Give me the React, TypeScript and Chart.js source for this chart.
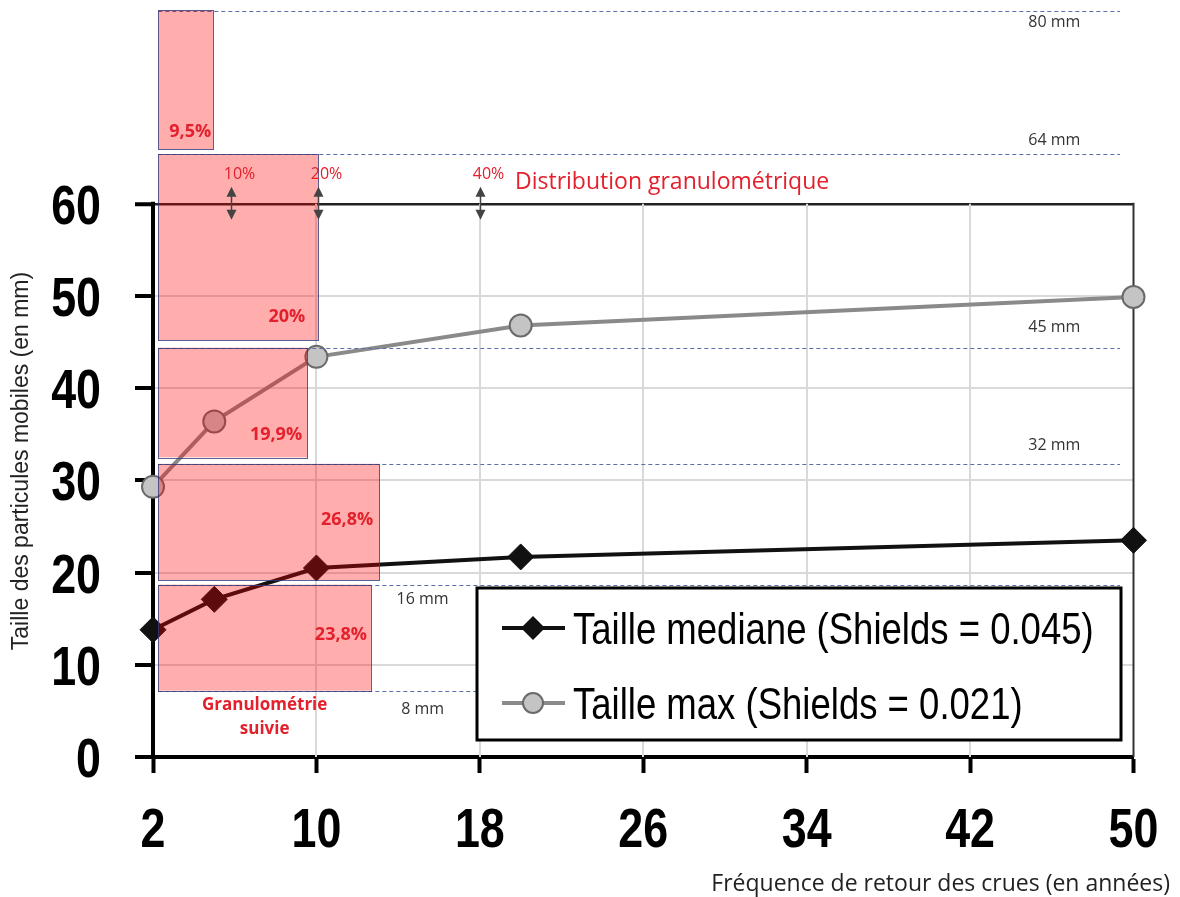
import React, { useEffect, useRef } from 'react';
import { Chart, registerables } from 'chart.js';

Chart.register(...registerables);

// Return period of floods (years) and mobile particle sizes (mm)
const returnPeriods = [2, 5, 10, 20, 50];
const medianSize = [13.8, 17.1, 20.5, 21.7, 23.5];
const maxSize = [29.3, 36.4, 43.4, 46.8, 49.9];
const xTicks = [2, 10, 18, 26, 34, 42, 50];
const yTicks = [0, 10, 20, 30, 40, 50, 60];

// Grain-size classes of the monitored bed material (position on the size axis)
const classLeft = 2.26;
const classTop = [81.0, 65.4, 44.4, 31.8, 18.7];
const classBottom = [65.9, 45.2, 32.5, 19.2, 7.2];
const classRight = [4.94, 10.1, 9.57, 13.09, 12.67];
const classShare = ['9,5%', '20%', '19,9%', '26,8%', '23,8%'];
const classShareX = [4.85, 9.45, 9.3, 12.78, 12.48];
const classShareY = [67.8, 47.7, 34.9, 25.7, 13.2];

// Class limits
const limitY = [80.9, 65.4, 44.4, 31.8, 18.7, 7.2];
const limitLabels = ['80 mm', '64 mm', '45 mm', '32 mm', '16 mm', '8 mm'];

// Cumulative distribution markers
const arrowX = [5.8, 10.1, 18];
const arrowLabels = ['10%', '20%', '40%'];

const seriesNames = ['Taille mediane (Shields = 0.045)', 'Taille max (Shields = 0.021)'];

const RED = '#e3202c';
const SANS = '"Liberation Sans", Arial, sans-serif';
const SOFT = '"Open Sans", "Noto Sans", sans-serif';

// placement of the limit labels: x position (axis units), pixel offset from line, alignment
const limitLabelPos = [
  { x: 47.4, dy: 11, align: 'right' },
  { x: 47.4, dy: -14, align: 'right' },
  { x: 47.4, dy: -20, align: 'right' },
  { x: 47.4, dy: -18, align: 'right' },
  { x: 15.2, dy: 15, align: 'center' },
  { x: 15.2, dy: 19, align: 'center' },
];

// text drawn with a horizontal squeeze (narrow face)
function narrowText(ctx: CanvasRenderingContext2D, text: string, x: number, y: number, sx: number, align: CanvasTextAlign) {
  ctx.save();
  ctx.translate(x, y);
  ctx.scale(sx, 1);
  ctx.textAlign = align;
  ctx.fillText(text, 0, 0);
  ctx.restore();
}

const overlayPlugin = {
  id: 'grainOverlay',
  beforeDatasetsDraw(chart: any) {
    const { ctx, scales } = chart;
    const xs = scales.x;
    const ys = scales.y;
    const top = ys.getPixelForValue(60);
    const bottom = ys.getPixelForValue(0);
    ctx.save();
    ctx.strokeStyle = '#d9d9d9';
    ctx.lineWidth = 2;
    xTicks.slice(1, -1).forEach((v) => {
      const px = Math.round(xs.getPixelForValue(v));
      ctx.beginPath();
      ctx.moveTo(px, top);
      ctx.lineTo(px, bottom);
      ctx.stroke();
    });
    // right frame
    ctx.strokeStyle = '#333';
    ctx.lineWidth = 2;
    const rx = xs.getPixelForValue(50);
    ctx.beginPath();
    ctx.moveTo(rx, top - 1);
    ctx.lineTo(rx, bottom);
    ctx.stroke();
    // value axis line, limited to the 0-60 range
    ctx.strokeStyle = '#000';
    ctx.lineWidth = 4;
    const lx = Math.round(xs.getPixelForValue(2));
    ctx.beginPath();
    ctx.moveTo(lx, top - 2);
    ctx.lineTo(lx, bottom + 2);
    ctx.stroke();

    // axis tick labels (bold narrow)
    ctx.fillStyle = '#000';
    ctx.font = `bold 56px ${SANS}`;
    ctx.textBaseline = 'alphabetic';
    ys.ticks.forEach((t: any) => {
      narrowText(ctx, t.label ?? String(t.value), 101, ys.getPixelForValue(t.value) + 20, 0.8, 'right');
    });
    xs.ticks.forEach((t: any) => {
      narrowText(ctx, t.label ?? String(t.value), xs.getPixelForValue(t.value), 847, 0.8, 'center');
    });
    ctx.restore();
  },
  afterDatasetsDraw(chart: any) {
    const { ctx, scales } = chart;
    const xs = scales.x;
    const ys = scales.y;
    const X = (v: number) => xs.getPixelForValue(v);
    const Y = (v: number) => ys.getPixelForValue(v);
    ctx.save();

    // dashed class limits
    ctx.strokeStyle = '#5b6fa6';
    ctx.lineWidth = 1;
    ctx.setLineDash([4, 3]);
    limitY.forEach((v) => {
      const py = Math.round(Y(v)) + 0.5;
      ctx.beginPath();
      ctx.moveTo(X(classLeft), py);
      ctx.lineTo(1120, py);
      ctx.stroke();
    });
    ctx.setLineDash([]);

    // class boxes
    classTop.forEach((t, i) => {
      const x0 = X(classLeft);
      const x1 = X(classRight[i]);
      const y0 = Y(t);
      const y1 = Y(classBottom[i]);
      ctx.fillStyle = 'rgba(255,0,0,0.32)';
      ctx.fillRect(x0, y0, x1 - x0, y1 - y0);
      ctx.strokeStyle = 'rgba(50,60,120,0.8)';
      ctx.lineWidth = 1;
      ctx.strokeRect(Math.round(x0) + 0.5, Math.round(y0) + 0.5, Math.round(x1 - x0), Math.round(y1 - y0));
    });

    // class shares
    ctx.fillStyle = RED;
    ctx.font = `bold 18px ${SOFT}`;
    ctx.textAlign = 'right';
    ctx.textBaseline = 'middle';
    classShare.forEach((s, i) => {
      ctx.fillText(s, X(classShareX[i]), Y(classShareY[i]));
    });

    // distribution arrows
    const yMid = Y(60);
    arrowX.forEach((v, i) => {
      const px = Math.round(X(v)) + 0.5;
      ctx.strokeStyle = '#444';
      ctx.fillStyle = '#444';
      ctx.lineWidth = 1.5;
      ctx.beginPath();
      ctx.moveTo(px, yMid - 10);
      ctx.lineTo(px, yMid + 10);
      ctx.stroke();
      ctx.beginPath();
      ctx.moveTo(px, yMid - 17);
      ctx.lineTo(px - 5, yMid - 7);
      ctx.lineTo(px + 5, yMid - 7);
      ctx.closePath();
      ctx.fill();
      ctx.beginPath();
      ctx.moveTo(px, yMid + 16);
      ctx.lineTo(px - 5, yMid + 6);
      ctx.lineTo(px + 5, yMid + 6);
      ctx.closePath();
      ctx.fill();
      ctx.fillStyle = RED;
      ctx.font = `16px ${SOFT}`;
      ctx.textAlign = 'center';
      ctx.textBaseline = 'middle';
      ctx.fillText(arrowLabels[i], px + 8, yMid - 29);
    });

    ctx.fillStyle = RED;
    ctx.font = `23px ${SOFT}`;
    ctx.textAlign = 'left';
    ctx.textBaseline = 'middle';
    ctx.fillText('Distribution granulométrique', 515, yMid - 21);

    // monitored grain size caption
    const cx = (X(classLeft) + X(classRight[4])) / 2;
    ctx.font = `bold 17px ${SOFT}`;
    ctx.textAlign = 'center';
    ctx.fillText('Granulométrie', cx, Y(classBottom[4]) + 15);
    ctx.fillText('suivie', cx, Y(classBottom[4]) + 39);

    // limit labels
    ctx.fillStyle = '#333';
    ctx.font = `16px ${SOFT}`;
    limitLabels.forEach((l, i) => {
      const p = limitLabelPos[i];
      ctx.textAlign = p.align as CanvasTextAlign;
      ctx.fillText(l, X(p.x), Y(limitY[i]) + p.dy);
    });

    // legend
    const lx = 477, ly = 588, lw = 644, lh = 152;
    ctx.fillStyle = '#fff';
    ctx.fillRect(lx, ly, lw, lh);
    ctx.strokeStyle = '#000';
    ctx.lineWidth = 3;
    ctx.strokeRect(lx, ly, lw, lh);
    const rows = [628, 703];
    const ds = chart.data.datasets;
    rows.forEach((ry, i) => {
      const d = ds[i];
      ctx.strokeStyle = d.borderColor;
      ctx.lineWidth = 4;
      ctx.beginPath();
      ctx.moveTo(502, ry);
      ctx.lineTo(565, ry);
      ctx.stroke();
      const mx = 533;
      if (i === 0) {
        ctx.fillStyle = d.pointBackgroundColor;
        ctx.beginPath();
        ctx.moveTo(mx, ry - 12);
        ctx.lineTo(mx + 12, ry);
        ctx.lineTo(mx, ry + 12);
        ctx.lineTo(mx - 12, ry);
        ctx.closePath();
        ctx.fill();
      } else {
        ctx.fillStyle = d.pointBackgroundColor;
        ctx.strokeStyle = d.pointBorderColor;
        ctx.lineWidth = 2;
        ctx.beginPath();
        ctx.arc(mx, ry, 10, 0, Math.PI * 2);
        ctx.fill();
        ctx.stroke();
      }
      ctx.fillStyle = '#000';
      ctx.font = `44px ${SANS}`;
      ctx.textBaseline = 'alphabetic';
      narrowText(ctx, d.label, 573, ry + 16, 0.83, 'left');
    });

    // axis titles
    ctx.fillStyle = '#222';
    ctx.font = `23px ${SANS}`;
    ctx.textAlign = 'center';
    ctx.textBaseline = 'middle';
    ctx.save();
    ctx.translate(22, 461);
    ctx.rotate(-Math.PI / 2);
    ctx.fillText('Taille des particules mobiles (en mm)', 0, 0);
    ctx.restore();
    ctx.font = `23px ${SOFT}`;
    ctx.textAlign = 'right';
    ctx.fillText('Fréquence de retour des crues (en années)', 1170, 884);

    ctx.restore();
  },
};

export default function App() {
  const ref = useRef<HTMLCanvasElement>(null);

  useEffect(() => {
    const canvas = ref.current;
    if (!canvas) return;
    const chart = new Chart(canvas, {
      type: 'line',
      data: {
        datasets: [
          {
            label: seriesNames[0],
            data: returnPeriods.map((x, i) => ({ x, y: medianSize[i] })),
            borderColor: '#111',
            backgroundColor: '#111',
            borderWidth: 4,
            pointStyle: 'rectRot',
            pointRadius: 13,
            pointBackgroundColor: '#111',
            pointBorderColor: '#111',
            pointBorderWidth: 1,
            clip: false,
          } as any,
          {
            label: seriesNames[1],
            data: returnPeriods.map((x, i) => ({ x, y: maxSize[i] })),
            borderColor: '#8a8a8a',
            backgroundColor: '#c4c4c4',
            borderWidth: 4,
            pointStyle: 'circle',
            pointRadius: 11,
            pointBackgroundColor: '#c4c4c4',
            pointBorderColor: '#6a6a6a',
            pointBorderWidth: 2,
            clip: false,
          } as any,
        ],
      },
      options: {
        animation: false,
        responsive: false,
        events: [],
        layout: { autoPadding: false, padding: { top: 1, right: 46.5, left: 0, bottom: 0 } },
        plugins: { legend: { display: false }, tooltip: { enabled: false } },
        scales: {
          x: {
            type: 'linear',
            min: 2,
            max: 50,
            afterBuildTicks: (s: any) => {
              s.ticks = xTicks.map((v) => ({ value: v }));
            },
            afterFit: (s: any) => {
              s.height = 140;
              s.paddingLeft = 0;
              s.paddingRight = 0;
            },
            ticks: { display: false, autoSkip: false, maxRotation: 0 },
            grid: { drawOnChartArea: false, drawTicks: true, tickLength: 16, tickWidth: 4, tickColor: '#000' },
            border: { color: '#000', width: 4 },
          },
          y: {
            type: 'linear',
            min: 0,
            max: 82,
            afterBuildTicks: (s: any) => {
              s.ticks = yTicks.map((v) => ({ value: v }));
            },
            afterFit: (s: any) => {
              s.width = 153;
              s.paddingTop = 0;
              s.paddingBottom = 0;
            },
            ticks: { display: false },
            grid: {
              color: (c: any) => (c.tick && c.tick.value === 60 ? '#222' : c.tick && c.tick.value === 0 ? 'rgba(0,0,0,0)' : '#d9d9d9'),
              lineWidth: (c: any) => (c.tick && c.tick.value === 60 ? 2.5 : 2),
              tickLength: 18,
              tickWidth: 4,
              tickColor: '#000',
            },
            border: { display: false },
          },
        },
      },
      plugins: [overlayPlugin],
    });
    return () => chart.destroy();
  }, []);

  return (
    <div style={{ position: 'absolute', left: 0, top: 0, width: 1180, height: 897, background: '#fff' }}>
      <canvas ref={ref} width={1180} height={897} style={{ display: 'block' }} />
    </div>
  );
}
